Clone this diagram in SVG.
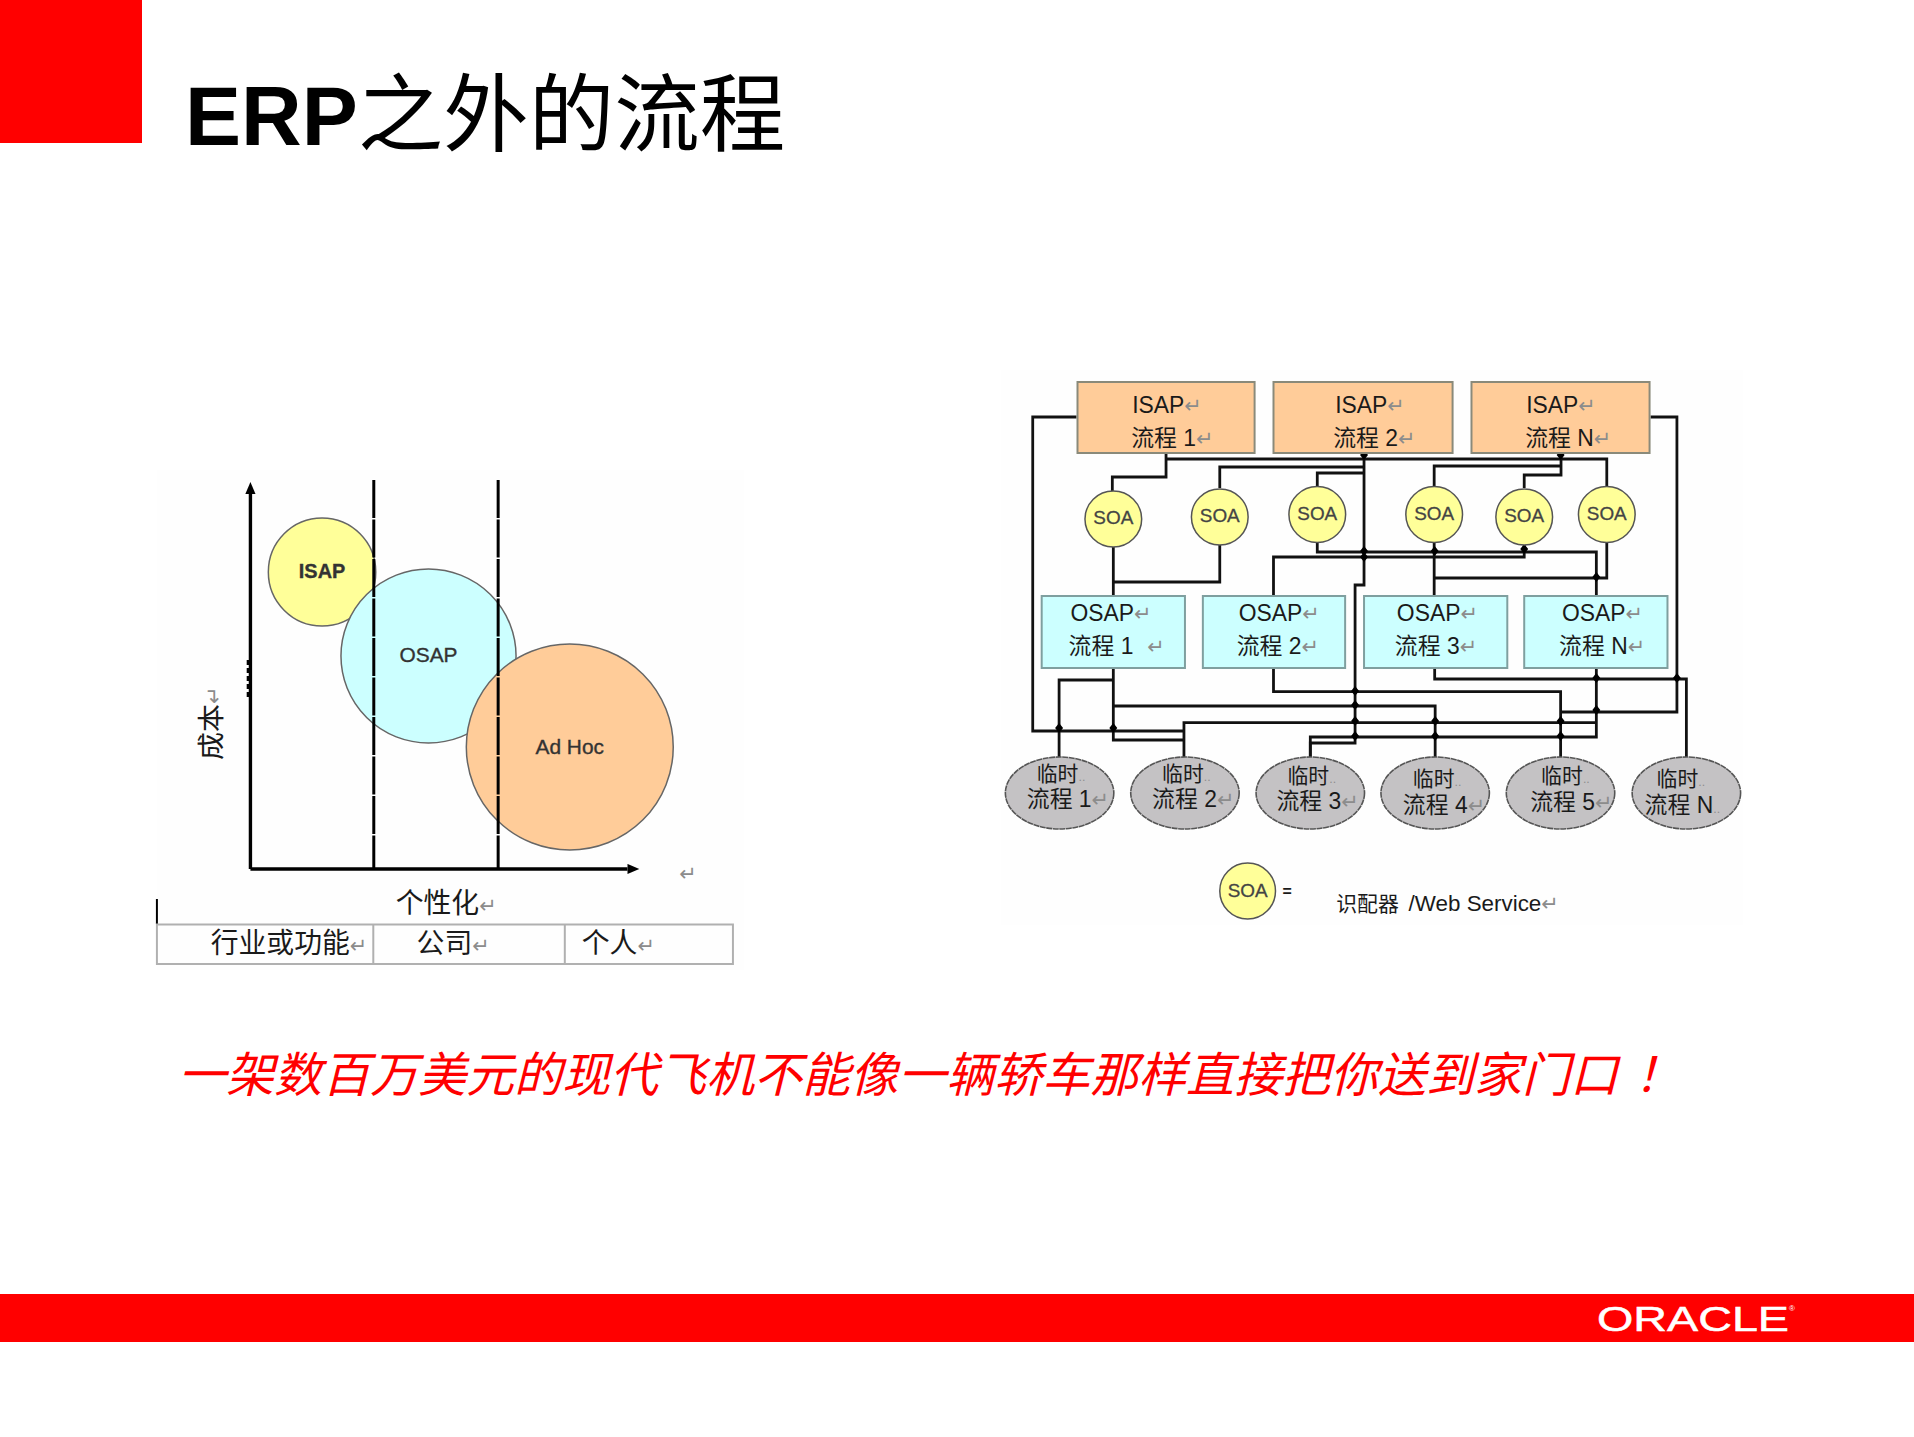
<svg xmlns="http://www.w3.org/2000/svg" width="1914" height="1437" viewBox="0 0 1914 1437">
<style>
text{font-family:"Liberation Sans","Noto Sans CJK SC",sans-serif;fill:#1a1a1a}
.r{font-family:"DejaVu Sans",sans-serif;fill:#8c8c8c;font-size:21px}
.d{font-size:11px}
.b{font-size:23px}
.g{font-size:21px}
.soa{font-size:19px;text-anchor:middle;fill:#444;stroke:#444;stroke-width:.3}
.se{fill:#ffff99;stroke:#555;stroke-width:1.5}
.ib{fill:#ffcc99;stroke:#8a8a7a;stroke-width:2}
.ob{fill:#ccffff;stroke:#7f9f9f;stroke-width:2}
.ge{fill:#c4c2c4;stroke:#555;stroke-width:1.6;stroke-dasharray:6 .6}
.wire{fill:none;stroke:#111;stroke-width:2.8}
.lab{font-size:21px;text-anchor:middle;fill:#333;stroke:#333;stroke-width:.35}
.cjk{font-size:28px}
.ax{fill:none;stroke:#000;stroke-width:3.4}
.cut{fill:none;stroke:#000;stroke-width:3;stroke-dasharray:38 1.5}
.wh{fill:#fff}
</style>
<defs>
<marker id="ah" markerWidth="4" markerHeight="4" refX="0" refY="1.5" orient="auto" markerUnits="strokeWidth"><path d="M0 0L3.500 1.500L0 3z" fill="#000"/></marker>
</defs>
<rect width="1914" height="1437" fill="#fff"/>
<g id="header">
<rect width="142" height="143" fill="#f00"/>
<text x="185" y="145" font-size="84" font-weight="700" style="fill:#000">ERP<tspan font-weight="400" font-size="85.500">之外的流程</tspan></text>
</g>
<g id="positioning-chart" transform="matrix(.99486 0 0 1 .72 0)">
<rect x="157" y="470" width="590" height="500" fill="#fefefe"/>
<path class="ax" d="M251 869V494" marker-end="url(#ah)"/>
<path class="ax" d="M251 869H630" marker-end="url(#ah)"/>
<path d="M248.500 660V700" stroke="#000" stroke-width="2.500" stroke-dasharray="5 3"/>
<g id="chart-isap"><ellipse cx="323" cy="572" rx="54" ry="54" fill="#ffff99" stroke="#666" stroke-width="1.5"/><text class="lab" x="323" y="578" style="font-size:20px;font-weight:700">ISAP</text></g>
<g id="chart-osap"><ellipse cx="430" cy="656" rx="88" ry="87" fill="#ccffff" stroke="#666" stroke-width="1.5"/></g>
<path class="cut" d="M375 480V869"/>
<text class="lab" x="430" y="662">OSAP</text>
<g id="chart-adhoc"><ellipse cx="572" cy="747" rx="104" ry="103" fill="#ffcc99" stroke="#666" stroke-width="1.5"/><text class="lab" x="572" y="754">Ad Hoc</text></g>
<path class="cut" d="M500 480V869"/>
<text class="cjk" transform="translate(221 760) rotate(-90)">成本<tspan class="r">↵</tspan></text>
<text class="r" x="682" y="881">↵</text>
<text class="cjk" x="397" y="913">个性化<tspan class="r">↵</tspan></text>
<g id="chart-table">
<path d="M157 899V924" stroke="#000" stroke-width="2"/>
<path d="M157 924.500H736V964H157zM374.500 924.500V964M567 924.500V964" fill="none" stroke="#b0b0b0" stroke-width="2"/>
<text class="cjk" x="211" y="953">行业或功能<tspan class="r">↵</tspan></text>
<text class="cjk" x="418" y="953">公司<tspan class="r">↵</tspan></text>
<text class="cjk" x="584" y="953">个人<tspan class="r">↵</tspan></text>
</g>
</g>
<g id="process-map" transform="matrix(.9949 0 0 1 5 0)">
<rect x="1001" y="370" width="746" height="555" fill="#fefefe"/>
<g id="connectors" class="wire">
<path d="M1077 417H1033V731H1185"/>
<path d="M1654 417H1680.500V712H1564"/>
<path d="M1167 453V477H1113V491"/>
<path d="M1167 459H1610V486"/>
<path d="M1366 453V585H1357V743H1312V757"/>
<path d="M1366 467H1221V488"/>
<path d="M1366 473H1319V486"/>
<path d="M1564 453V475H1527V488"/>
<path d="M1564 466H1436.500V486"/>
<path d="M1114 547V595"/>
<path d="M1221 545V582H1114"/>
<path d="M1319 543V552H1599.500V595"/>
<path d="M1527 545V557H1275V595"/>
<path d="M1436.500 543V595"/>
<path d="M1610 543V578H1436.500"/>
<path d="M1114 668V740H1185"/>
<path d="M1114 680H1059.500V757"/>
<path d="M1114 706H1437.500V757"/>
<path d="M1185 757V722.700H1599.500"/>
<path d="M1275 668V691.700H1563.600V757"/>
<path d="M1437 668V679H1690V757"/>
<path d="M1599.500 668V737H1312V757"/>
<path id="dots" fill="#000" stroke="none" d="M1366 450l4 5-4 5-4-5zM1563.600 450l4 5-4 5-4-5zM1366 546l4 5-4 5-4-5zM1366 552l4 5-4 5-4-5zM1437 546l4 5-4 5-4-5zM1527 544l4 5-4 5-4-5zM1599.500 572l4 5-4 5-4-5zM1357 686l4 5-4 5-4-5zM1357 700l4 5-4 5-4-5zM1357 716l4 5-4 5-4-5zM1357 731l4 5-4 5-4-5zM1059.500 723l4 5-4 5-4-5zM1114 723l4 5-4 5-4-5zM1437.500 716l4 5-4 5-4-5zM1437.500 731l4 5-4 5-4-5zM1563.600 716l4 5-4 5-4-5zM1563.600 731l4 5-4 5-4-5zM1599.500 673l4 5-4 5-4-5zM1680.500 673l4 5-4 5-4-5zM1599.500 705l4 5-4 5-4-5z"/>
</g>
<g id="isap-1"><rect class="ib" x="1078" y="382" width="178" height="71"/><text class="b" x="1133" y="413">ISAP<tspan class="r">↵</tspan></text><text class="b" x="1132" y="446">流程 1<tspan class="r">↵</tspan></text></g>
<g id="isap-2"><rect class="ib" x="1275" y="382" width="180" height="71"/><text class="b" x="1337" y="413">ISAP<tspan class="r">↵</tspan></text><text class="b" x="1335" y="446">流程 2<tspan class="r">↵</tspan></text></g>
<g id="isap-n"><rect class="ib" x="1474" y="382" width="179" height="71"/><text class="b" x="1529" y="413">ISAP<tspan class="r">↵</tspan></text><text class="b" x="1528" y="446">流程 N<tspan class="r">↵</tspan></text></g>
<g id="soa-1"><ellipse class="se" cx="1114" cy="519" rx="28.500" ry="28"/><text class="soa" x="1114" y="524">SOA</text></g>
<g id="soa-2"><ellipse class="se" cx="1221" cy="517" rx="28.500" ry="28"/><text class="soa" x="1221" y="522">SOA</text></g>
<g id="soa-3"><ellipse class="se" cx="1319" cy="514.500" rx="28.500" ry="28"/><text class="soa" x="1319" y="520">SOA</text></g>
<g id="soa-4"><ellipse class="se" cx="1436.500" cy="514.500" rx="28.500" ry="28"/><text class="soa" x="1436.500" y="520">SOA</text></g>
<g id="soa-5"><ellipse class="se" cx="1527" cy="517" rx="28.500" ry="28"/><text class="soa" x="1527" y="522">SOA</text></g>
<g id="soa-6"><ellipse class="se" cx="1610" cy="514.500" rx="28.500" ry="28"/><text class="soa" x="1610" y="520">SOA</text></g>
<g id="osap-1"><rect class="ob" x="1042" y="596" width="144" height="72"/><text class="b" x="1071" y="621">OSAP<tspan class="r">↵</tspan></text><text class="b" x="1069" y="654">流程 1<tspan class="r" dx="14">↵</tspan></text></g>
<g id="osap-2"><rect class="ob" x="1204" y="596" width="143" height="72"/><text class="b" x="1240" y="621">OSAP<tspan class="r">↵</tspan></text><text class="b" x="1238" y="654">流程 2<tspan class="r">↵</tspan></text></g>
<g id="osap-3"><rect class="ob" x="1366" y="596" width="144" height="72"/><text class="b" x="1399" y="621">OSAP<tspan class="r">↵</tspan></text><text class="b" x="1397" y="654">流程 3<tspan class="r">↵</tspan></text></g>
<g id="osap-n"><rect class="ob" x="1527" y="596" width="144" height="72"/><text class="b" x="1565" y="621">OSAP<tspan class="r">↵</tspan></text><text class="b" x="1562" y="654">流程 N<tspan class="r">↵</tspan></text></g>
<g id="adhoc-1"><ellipse class="ge" cx="1060" cy="793" rx="54.500" ry="36"/><text class="g" x="1037" y="781">临时<tspan class="r d">..</tspan></text><text class="b" x="1027" y="807">流程 1<tspan class="r">↵</tspan></text></g>
<g id="adhoc-2"><ellipse class="ge" cx="1186" cy="793" rx="54.500" ry="36"/><text class="g" x="1163" y="781">临时<tspan class="r d">..</tspan></text><text class="b" x="1153" y="807">流程 2<tspan class="r">↵</tspan></text></g>
<g id="adhoc-3"><ellipse class="ge" cx="1312" cy="793" rx="54.500" ry="36"/><text class="g" x="1289" y="783">临时<tspan class="r d">..</tspan></text><text class="b" x="1278" y="809">流程 3<tspan class="r">↵</tspan></text></g>
<g id="adhoc-4"><ellipse class="ge" cx="1437.500" cy="793" rx="54.500" ry="36"/><text class="g" x="1415" y="786">临时<tspan class="r d">..</tspan></text><text class="b" x="1405" y="813">流程 4<tspan class="r">↵</tspan></text></g>
<g id="adhoc-5"><ellipse class="ge" cx="1563.500" cy="793" rx="54.500" ry="36"/><text class="g" x="1544" y="783">临时<tspan class="r d">..</tspan></text><text class="b" x="1533" y="810">流程 5<tspan class="r">↵</tspan></text></g>
<g id="adhoc-n"><ellipse class="ge" cx="1690" cy="793" rx="54.500" ry="36"/><text class="g" x="1660" y="786">临时<tspan class="r d">..</tspan></text><text class="b" x="1648" y="813">流程 N<tspan class="r d">..</tspan></text></g>
<g id="legend"><ellipse class="se" cx="1249" cy="891" rx="28" ry="28"/><text class="soa" x="1249" y="897">SOA</text><text x="1284" y="897" font-size="16" font-weight="700">=</text><text x="1338" y="911" font-size="21">识配器 <tspan font-size="22.500" dx="4">/Web Service</tspan><tspan class="r">↵</tspan></text></g>
</g>
<text id="caption" x="178" y="1092" font-size="48" font-style="italic" style="fill:#f00">一架数百万美元的现代飞机不能像一辆轿车那样直接把你送到家门口<tspan x="1634">！</tspan></text>
<g id="footer"><rect y="1294" width="1914" height="48" fill="#f00"/><text class="wh" x="1597" y="1331" font-size="35" textLength="192" lengthAdjust="spacingAndGlyphs" stroke="#fff" stroke-width=".5" style="fill:#fff">ORACLE</text><text x="1789" y="1311" font-size="8" style="fill:#fff">®</text></g>
</svg>
